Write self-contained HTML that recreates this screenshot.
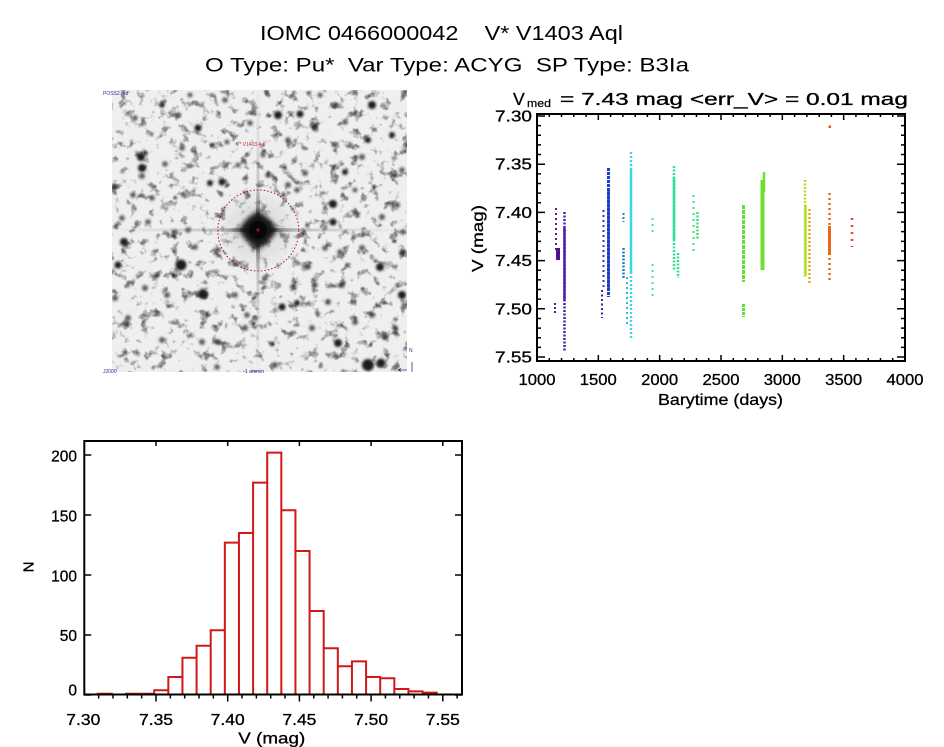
<!DOCTYPE html>
<html><head><meta charset="utf-8"><style>html,body{margin:0;padding:0;background:#fff;}svg{display:block;} .pre{white-space:pre;}</style></head>
<body>
<svg width="944" height="747" viewBox="0 0 944 747" xmlns="http://www.w3.org/2000/svg" font-family="'Liberation Sans', sans-serif">
<defs>
<filter id="nz" filterUnits="userSpaceOnUse" x="112" y="90" width="295" height="282" color-interpolation-filters="sRGB">
<feTurbulence type="fractalNoise" baseFrequency="0.1" numOctaves="3" seed="5"/>
<feColorMatrix type="matrix" values="-2.2 0 0 0 2.2  -2.2 0 0 0 2.2  -2.2 0 0 0 2.2  0 0 0 0 1"/>
<feComponentTransfer><feFuncR type="linear" slope="0.94" intercept="0"/><feFuncG type="linear" slope="0.94" intercept="0"/><feFuncB type="linear" slope="0.94" intercept="0"/></feComponentTransfer>
</filter>
<filter id="bl" x="-100%" y="-100%" width="300%" height="300%"><feGaussianBlur stdDeviation="1.3"/></filter>
<filter id="bl3" x="-100%" y="-100%" width="300%" height="300%"><feGaussianBlur stdDeviation="3"/></filter>
<filter id="bl6" x="-100%" y="-100%" width="300%" height="300%"><feGaussianBlur stdDeviation="6"/></filter>
<linearGradient id="gv" x1="0" y1="0" x2="0" y2="1"><stop offset="0" stop-color="#999" stop-opacity="0.1"/><stop offset="0.5" stop-color="#222" stop-opacity="1"/><stop offset="1" stop-color="#999" stop-opacity="0.1"/></linearGradient>
<linearGradient id="gh" x1="0" y1="0" x2="1" y2="0"><stop offset="0" stop-color="#999" stop-opacity="0.1"/><stop offset="0.5" stop-color="#222" stop-opacity="1"/><stop offset="1" stop-color="#999" stop-opacity="0.1"/></linearGradient>
<clipPath id="imgclip"><rect x="112" y="90" width="295" height="282"/></clipPath>
</defs>
<rect width="944" height="747" fill="#fff"/>

<!-- Titles -->
<text class="pre" xml:space="preserve" x="260" y="40" font-size="20.5" textLength="363" lengthAdjust="spacingAndGlyphs" fill="#000">IOMC 0466000042    V* V1403 Aql</text>
<text class="pre" xml:space="preserve" x="205" y="71.5" font-size="19.5" textLength="484" lengthAdjust="spacingAndGlyphs" fill="#000">O Type: Pu*  Var Type: ACYG  SP Type: B3Ia</text>

<!-- Star image -->
<g clip-path="url(#imgclip)">
<rect x="112" y="90" width="295" height="282" fill="#eee" filter="url(#nz)"/>
<circle cx="258" cy="230" r="34" fill="#bbb" opacity="0.25" filter="url(#bl6)"/>
<g fill="#1c1c1c" filter="url(#bl)">
<circle cx="181" cy="265" r="5.5"/><circle cx="203" cy="294" r="5"/><circle cx="368" cy="365" r="6"/><circle cx="381" cy="363" r="4.5"/>
<circle cx="141" cy="157" r="4"/><circle cx="142" cy="168" r="4"/><circle cx="278" cy="115" r="4"/><circle cx="300" cy="114" r="3.5"/>
<circle cx="372" cy="105" r="4"/><circle cx="333" cy="204" r="4"/><circle cx="380" cy="267" r="4"/><circle cx="402" cy="295" r="4"/>
<circle cx="338" cy="343" r="4"/><circle cx="124" cy="242" r="4"/><circle cx="118" cy="265" r="3.5"/><circle cx="282" cy="307" r="3.5"/>
<circle cx="297" cy="303" r="3"/><circle cx="198" cy="128" r="3.5"/><circle cx="222" cy="182" r="3.5"/><circle cx="210" cy="183" r="3"/>
<circle cx="392" cy="135" r="3"/><circle cx="345" cy="172" r="3"/><circle cx="368" cy="140" r="3"/><circle cx="333" cy="222" r="3.5"/>
</g>
<g fill="#2a2a2a" opacity="0.75" filter="url(#bl)">
<circle cx="250" cy="123" r="2.8"/><circle cx="165" cy="164" r="2.8"/><circle cx="142" cy="176" r="3"/><circle cx="305" cy="173" r="3"/>
<circle cx="268" cy="175" r="2.8"/><circle cx="288" cy="185" r="3"/><circle cx="297" cy="190" r="2.8"/><circle cx="293" cy="287" r="3"/>
<circle cx="265" cy="278" r="2.8"/><circle cx="245" cy="328" r="3"/><circle cx="202" cy="342" r="3"/><circle cx="218" cy="342" r="3"/>
<circle cx="312" cy="328" r="3"/><circle cx="162" cy="340" r="3"/><circle cx="128" cy="318" r="3"/><circle cx="275" cy="365" r="3"/>
<circle cx="217" cy="367" r="2.8"/><circle cx="385" cy="337" r="3"/><circle cx="395" cy="328" r="3"/><circle cx="372" cy="315" r="3"/>
<circle cx="355" cy="322" r="3"/><circle cx="328" cy="302" r="3"/><circle cx="342" cy="285" r="3"/><circle cx="362" cy="248" r="3"/>
<circle cx="340" cy="252" r="2.8"/><circle cx="325" cy="248" r="2.8"/><circle cx="397" cy="205" r="3"/><circle cx="382" cy="217" r="3"/>
<circle cx="175" cy="232" r="2.8"/><circle cx="188" cy="230" r="2.8"/><circle cx="195" cy="247" r="2.8"/><circle cx="148" cy="222" r="2.8"/>
<circle cx="145" cy="288" r="3"/><circle cx="167" cy="295" r="3"/><circle cx="115" cy="298" r="3"/><circle cx="218" cy="250" r="2.8"/>
<circle cx="235" cy="295" r="2.8"/><circle cx="247" cy="315" r="2.8"/><circle cx="308" cy="267" r="2.8"/><circle cx="315" cy="285" r="2.8"/>
<circle cx="362" cy="157" r="3"/><circle cx="335" cy="145" r="2.8"/><circle cx="315" cy="128" r="2.8"/><circle cx="288" cy="140" r="2.8"/>
<circle cx="263" cy="155" r="2.5"/><circle cx="238" cy="165" r="2.5"/><circle cx="227" cy="142" r="2.5"/><circle cx="182" cy="148" r="2.8"/>
<circle cx="133" cy="195" r="2.8"/><circle cx="115" cy="187" r="2.8"/><circle cx="122" cy="218" r="2.8"/><circle cx="152" cy="198" r="2.8"/>
<circle cx="178" cy="115" r="2.8"/><circle cx="162" cy="105" r="2.8"/><circle cx="135" cy="118" r="2.8"/><circle cx="225" cy="100" r="2.8"/>
<circle cx="335" cy="105" r="2.8"/><circle cx="345" cy="122" r="2.8"/><circle cx="402" cy="170" r="2.8"/><circle cx="403" cy="232" r="2.8"/>
<circle cx="402" cy="252" r="2.8"/><circle cx="190" cy="95" r="2.5"/><circle cx="320" cy="95" r="2.5"/><circle cx="355" cy="190" r="2.5"/>
</g>
<rect x="256.5" y="90" width="3" height="282" fill="url(#gv)" opacity="0.35"/>
<rect x="112" y="228.5" width="295" height="3" fill="url(#gh)" opacity="0.35"/>
<rect x="256" y="190" width="4" height="80" fill="url(#gv)" opacity="0.9"/>
<rect x="218" y="228" width="80" height="4" fill="url(#gh)" opacity="0.9"/>
<circle cx="258" cy="230" r="14" fill="#111" filter="url(#bl3)"/>
<polygon points="258,210 278,230 258,250 238,230" fill="#151515" filter="url(#bl3)"/>
<circle cx="258" cy="230" r="9" fill="#080808"/>
</g>
<circle cx="258.3" cy="230.5" r="40.5" fill="none" stroke="#b01515" stroke-width="1" stroke-dasharray="1.5 2"/>
<path d="M256 230h4M258 228v4" stroke="#d02020" stroke-width="0.8"/>
<text x="236" y="146" font-size="5" fill="#c03030">V* V1403 Aql</text>
<text x="103" y="95" font-size="5" fill="#303090">POSS2 red</text>
<text x="245" y="373" font-size="5" fill="#303090">1 arcmin</text>
<text x="103" y="373" font-size="5" fill="#303090">J2000</text>
<path d="M398 370h9M398 370l3 -1.5M398 370l3 1.5M412 362v10" stroke="#303090" stroke-width="0.8" fill="none"/>
<text x="409" y="352" font-size="5" fill="#303090">N</text>

<!-- Light curve plot -->
<g stroke="#000" stroke-width="0.3">
<text x="513" y="105" font-size="17.5" fill="#000">V</text>
<text x="527" y="107" font-size="11" fill="#000" textLength="24" lengthAdjust="spacingAndGlyphs" stroke-width="0.2">med</text>
<text class="pre" xml:space="preserve" x="560" y="105" font-size="17.5" fill="#000" textLength="348" lengthAdjust="spacingAndGlyphs">= 7.43 mag &lt;err_V&gt; = 0.01 mag</text>
</g>

<g fill="none">
<line x1="556" y1="208" x2="556" y2="250" stroke="#5a1a90" stroke-width="2" stroke-dasharray="2 3"/>
<line x1="558" y1="248" x2="558" y2="260" stroke="#4a1090" stroke-width="4"/>
<line x1="555" y1="303" x2="555" y2="315" stroke="#5a1a90" stroke-width="2" stroke-dasharray="2 2"/>
<line x1="564.5" y1="212" x2="564.5" y2="352" stroke="#4a22a8" stroke-width="2.5" stroke-dasharray="2 1.5"/>
<line x1="564.5" y1="228" x2="564.5" y2="300" stroke="#4a22a8" stroke-width="2.5"/>
<line x1="602" y1="290" x2="602" y2="318" stroke="#4020a0" stroke-width="2" stroke-dasharray="2 2.5"/>
<line x1="603.5" y1="210" x2="603.5" y2="287" stroke="#2838b8" stroke-width="2" stroke-dasharray="2 3"/>
<line x1="608.5" y1="168" x2="608.5" y2="297" stroke="#1a40c8" stroke-width="3" stroke-dasharray="3 1"/>
<line x1="608.5" y1="190" x2="608.5" y2="290" stroke="#1a40c8" stroke-width="2.5"/>
<line x1="623.5" y1="213" x2="623.5" y2="222" stroke="#2880c0" stroke-width="2" stroke-dasharray="2 2"/>
<line x1="623.5" y1="248" x2="623.5" y2="278" stroke="#2880c0" stroke-width="2.5" stroke-dasharray="2 1.5"/>
<line x1="627" y1="277" x2="627" y2="327" stroke="#38b0d8" stroke-width="2" stroke-dasharray="2 3"/>
<line x1="631" y1="152" x2="631" y2="338" stroke="#38d8e8" stroke-width="2.5" stroke-dasharray="2 2"/>
<line x1="631" y1="170" x2="631" y2="273" stroke="#38d8e8" stroke-width="2.5" stroke-dasharray="3 1"/>
<line x1="652.5" y1="218" x2="652.5" y2="234" stroke="#40e0c8" stroke-width="2" stroke-dasharray="2 4"/>
<line x1="652.5" y1="264" x2="652.5" y2="296" stroke="#40e0c8" stroke-width="2" stroke-dasharray="2 4"/>
<line x1="674" y1="166" x2="674" y2="270" stroke="#30e098" stroke-width="2.5" stroke-dasharray="2 1.5"/>
<line x1="674" y1="177" x2="674" y2="240" stroke="#30e098" stroke-width="2.5"/>
<line x1="678" y1="253" x2="678" y2="278" stroke="#30e090" stroke-width="2.5" stroke-dasharray="2 1.5"/>
<line x1="693.5" y1="195" x2="693.5" y2="255" stroke="#40e078" stroke-width="2" stroke-dasharray="2 4"/>
<line x1="697.5" y1="212" x2="697.5" y2="240" stroke="#40e078" stroke-width="2.5" stroke-dasharray="2 1.5"/>
<line x1="743.5" y1="205" x2="743.5" y2="282" stroke="#60e030" stroke-width="3" stroke-dasharray="4 1"/>
<line x1="743.5" y1="304" x2="743.5" y2="317" stroke="#60e030" stroke-width="3" stroke-dasharray="3 1"/>
<line x1="762.5" y1="180" x2="762.5" y2="270" stroke="#70e030" stroke-width="4"/>
<line x1="764" y1="172" x2="764" y2="192" stroke="#70e030" stroke-width="2.5"/>
<line x1="805" y1="180" x2="805" y2="278" stroke="#b0e020" stroke-width="2.5" stroke-dasharray="2 1.5"/>
<line x1="805.5" y1="205" x2="805.5" y2="275" stroke="#b0e020" stroke-width="2.5"/>
<line x1="809.5" y1="209" x2="809.5" y2="283" stroke="#e0b020" stroke-width="2.5" stroke-dasharray="2 2"/>
<line x1="829.5" y1="193" x2="829.5" y2="283" stroke="#e86820" stroke-width="2.5" stroke-dasharray="2 3"/>
<line x1="829.5" y1="226" x2="829.5" y2="255" stroke="#e86820" stroke-width="3"/>
<line x1="852" y1="218" x2="852" y2="247" stroke="#d84820" stroke-width="2.5" stroke-dasharray="2 5"/>
</g>
<rect x="828.5" y="125.5" width="2.5" height="2.5" fill="#e05020"/>

<rect x="537" y="114" width="368" height="247" fill="none" stroke="#000" stroke-width="2"/>
<path stroke="#000" stroke-width="1.5" fill="none" d="
M537 116h8M537 164.2h8M537 212.4h8M537 260.6h8M537 308.8h8M537 357h8
M905 116h-8M905 164.2h-8M905 212.4h-8M905 260.6h-8M905 308.8h-8M905 357h-8
M537 125.64h4M537 135.28h4M537 144.92h4M537 154.56h4M537 173.84h4M537 183.48h4M537 193.12h4M537 202.76h4M537 222.04h4M537 231.68h4M537 241.32h4M537 250.96h4M537 270.24h4M537 279.88h4M537 289.52h4M537 299.16h4M537 318.44h4M537 328.08h4M537 337.72h4M537 347.36h4
M905 125.64h-4M905 135.28h-4M905 144.92h-4M905 154.56h-4M905 173.84h-4M905 183.48h-4M905 193.12h-4M905 202.76h-4M905 222.04h-4M905 231.68h-4M905 241.32h-4M905 250.96h-4M905 270.24h-4M905 279.88h-4M905 289.52h-4M905 299.16h-4M905 318.44h-4M905 328.08h-4M905 337.72h-4M905 347.36h-4
M598.33 361v-6M659.67 361v-6M721 361v-6M782.33 361v-6M843.67 361v-6
M598.33 114v6M659.67 114v6M721 114v6M782.33 114v6M843.67 114v6
M549.27 361v-3M561.53 361v-3M573.8 361v-3M586.07 361v-3M610.6 361v-3M622.87 361v-3M635.13 361v-3M647.4 361v-3M671.93 361v-3M684.2 361v-3M696.47 361v-3M708.73 361v-3M733.27 361v-3M745.53 361v-3M757.8 361v-3M770.07 361v-3M794.6 361v-3M806.87 361v-3M819.13 361v-3M831.4 361v-3M855.93 361v-3M868.2 361v-3M880.47 361v-3M892.73 361v-3
M549.27 114v3M561.53 114v3M573.8 114v3M586.07 114v3M610.6 114v3M622.87 114v3M635.13 114v3M647.4 114v3M671.93 114v3M684.2 114v3M696.47 114v3M708.73 114v3M733.27 114v3M745.53 114v3M757.8 114v3M770.07 114v3M794.6 114v3M806.87 114v3M819.13 114v3M831.4 114v3M855.93 114v3M868.2 114v3M880.47 114v3M892.73 114v3
"/>
<g font-size="15.5" fill="#000" stroke="#000" stroke-width="0.3">
<text x="495" y="121.5" textLength="37" lengthAdjust="spacingAndGlyphs">7.30</text>
<text x="495" y="169.7" textLength="37" lengthAdjust="spacingAndGlyphs">7.35</text>
<text x="495" y="217.9" textLength="37" lengthAdjust="spacingAndGlyphs">7.40</text>
<text x="495" y="266.1" textLength="37" lengthAdjust="spacingAndGlyphs">7.45</text>
<text x="495" y="314.3" textLength="37" lengthAdjust="spacingAndGlyphs">7.50</text>
<text x="495" y="362.5" textLength="37" lengthAdjust="spacingAndGlyphs">7.55</text>
<text x="518.5" y="385" textLength="37" lengthAdjust="spacingAndGlyphs">1000</text>
<text x="579.8" y="385" textLength="37" lengthAdjust="spacingAndGlyphs">1500</text>
<text x="641.2" y="385" textLength="37" lengthAdjust="spacingAndGlyphs">2000</text>
<text x="702.5" y="385" textLength="37" lengthAdjust="spacingAndGlyphs">2500</text>
<text x="763.8" y="385" textLength="37" lengthAdjust="spacingAndGlyphs">3000</text>
<text x="825.2" y="385" textLength="37" lengthAdjust="spacingAndGlyphs">3500</text>
<text x="886.5" y="385" textLength="37" lengthAdjust="spacingAndGlyphs">4000</text>
<text x="658" y="405" font-size="16" textLength="125" lengthAdjust="spacingAndGlyphs">Barytime (days)</text>
<text x="0" y="0" font-size="16" text-anchor="middle" transform="translate(483 238.5) rotate(-90)" textLength="67" lengthAdjust="spacingAndGlyphs">V (mag)</text>
</g>

<!-- Histogram -->
<path fill="none" stroke="#d01818" stroke-width="2" d="
M97.7 694V693.8H111.83V694
M125.95 694V693.8H140.08V693.8H154.2V694
M140.08 694V693.8
M154.2 694V690.2H168.33V694
M168.33 694V677H182.45V694
M182.45 694V657.8H196.58V694
M196.58 694V645.8H210.7V694
M210.7 694V630.2H224.83V694
M224.83 694V542.6H238.95V694
M238.95 694V533H253.08V694
M253.08 694V482.6H267.2V694
M267.2 694V452.6H281.33V694
M281.33 694V510.2H295.45V694
M295.45 694V551H309.58V694
M309.58 694V611H323.7V694
M323.7 694V648.2H337.83V694
M337.83 694V666.2H351.95V694
M351.95 694V661.4H366.08V694
M366.08 694V677H380.2V694
M380.2 694V678.2H394.33V694
M394.33 694V689H408.45V694
M408.45 694V691.4H422.58V694
M422.58 694V692.6H436.7V694
"/>
<rect x="84.3" y="441" width="377.7" height="253.5" fill="none" stroke="#000" stroke-width="2"/>
<path stroke="#000" stroke-width="1.5" fill="none" d="
M84.3 695h7M84.3 635h7M84.3 575h7M84.3 515h7M84.3 455h7
M462 695h-7M462 635h-7M462 575h-7M462 515h-7M462 455h-7
M156 694.5v7M227.7 694.5v7M299.4 694.5v7M371.1 694.5v7M442.8 694.5v7
M98.64 694.5v4M112.98 694.5v4M127.32 694.5v4M141.66 694.5v4M170.34 694.5v4M184.68 694.5v4M199.02 694.5v4M213.36 694.5v4M242.04 694.5v4M256.38 694.5v4M270.72 694.5v4M285.06 694.5v4M313.74 694.5v4M328.08 694.5v4M342.42 694.5v4M356.76 694.5v4M385.44 694.5v4M399.78 694.5v4M414.12 694.5v4M428.46 694.5v4M457.14 694.5v4
M156 441v5M227.7 441v5M299.4 441v5M371.1 441v5M442.8 441v5
"/>
<g font-size="15.5" fill="#000" stroke="#000" stroke-width="0.3">
<text x="77" y="461.5" text-anchor="end">200</text>
<text x="77" y="521.5" text-anchor="end">150</text>
<text x="77" y="581.5" text-anchor="end">100</text>
<text x="77" y="641" text-anchor="end">50</text>
<text x="77" y="695.5" text-anchor="end">0</text>
<text x="66.3" y="725" textLength="34" lengthAdjust="spacingAndGlyphs">7.30</text>
<text x="139" y="725" textLength="34" lengthAdjust="spacingAndGlyphs">7.35</text>
<text x="210.7" y="725" textLength="34" lengthAdjust="spacingAndGlyphs">7.40</text>
<text x="282.4" y="725" textLength="34" lengthAdjust="spacingAndGlyphs">7.45</text>
<text x="354.1" y="725" textLength="34" lengthAdjust="spacingAndGlyphs">7.50</text>
<text x="425.8" y="725" textLength="34" lengthAdjust="spacingAndGlyphs">7.55</text>
<text x="238.3" y="743.5" font-size="16" textLength="67" lengthAdjust="spacingAndGlyphs">V (mag)</text>
<text x="0" y="0" font-size="15" text-anchor="middle" transform="translate(33.3 567) rotate(-90)">N</text>
</g>
</svg>
</body></html>
